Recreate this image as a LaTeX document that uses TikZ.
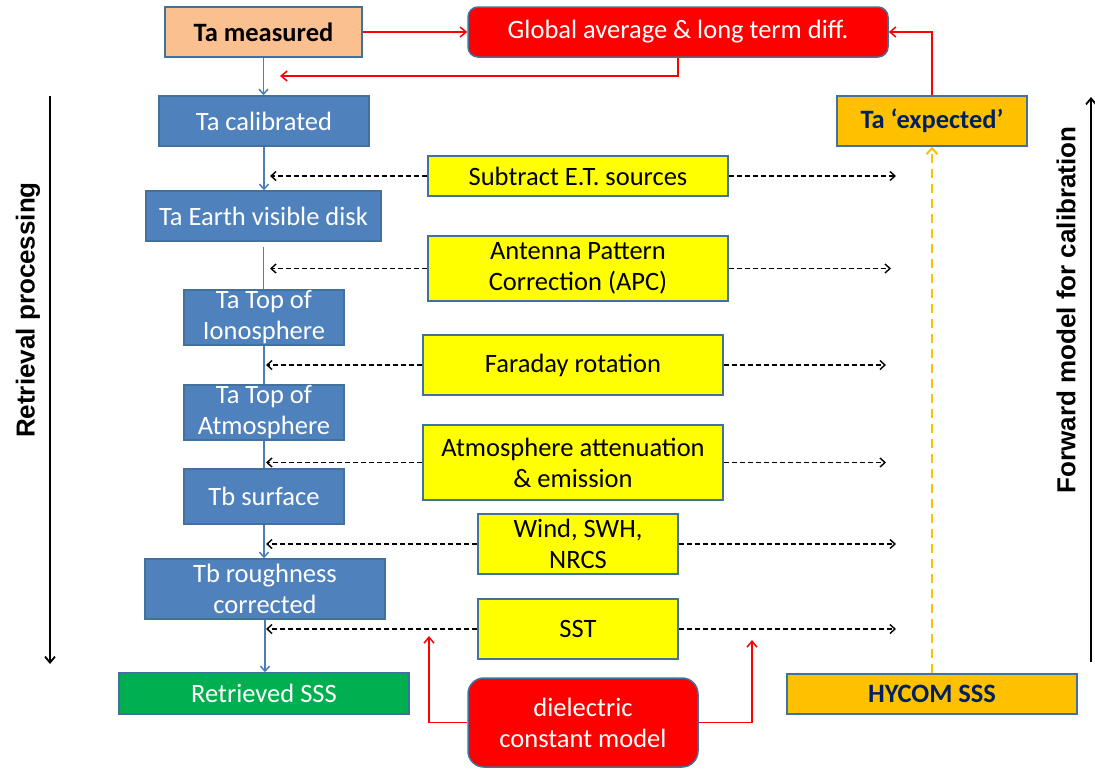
\documentclass[tikz,border=0pt]{standalone}
\usepackage{fontspec}
\setmainfont{Carlito}
\newfontfamily\arialfont{Liberation Sans}
\usetikzlibrary{arrows.meta}
\definecolor{bluebox}{HTML}{4F81BD}
\definecolor{edgeblue}{HTML}{41719C}
\definecolor{peach}{HTML}{FAC090}
\definecolor{ybox}{HTML}{FFFF00}
\definecolor{obox}{HTML}{FFC000}
\definecolor{navytext}{HTML}{002060}
\definecolor{gbox}{HTML}{00B050}
\definecolor{rbox}{HTML}{FF0000}
\definecolor{lineblue}{HTML}{4A7EBB}
\newcommand\bxf{\fontsize{26.5}{31}\selectfont}
\newcommand\sidef{\arialfont\bfseries\fontsize{26}{30}\selectfont}
\begin{document}
\begin{tikzpicture}[x=1pt,y=-1pt,
  box/.style={draw=edgeblue, line width=1.5pt, inner sep=0pt, align=center, font=\bxf},
  bluenode/.style={box, fill=bluebox, text=white},
  yelnode/.style={box, fill=ybox, text=black},
  orangenode/.style={box, fill=obox, text=navytext, font=\bxf\bfseries},
  rednode/.style={box, fill=rbox, text=white},
  blueconn/.style={draw=lineblue, line width=1.5pt},
  bluearr/.style={blueconn, -{Straight Barb[length=5pt,width=9pt]}},
  dasharr/.style={draw=black, line width=1.4pt, dash pattern=on 5pt off 3pt, -{Straight Barb[length=5pt,width=9pt]}},
  redarr/.style={draw=rbox, line width=1.5pt, -{Straight Barb[length=6pt,width=10pt]}},
  redline/.style={draw=rbox, line width=1.5pt},
  sidearr/.style={draw=black, line width=1.8pt, -{Straight Barb[length=6pt,width=10pt]}},
  sidelabel/.style={rotate=90, font=\sidef, inner sep=0pt}
]
\useasboundingbox (0,0) rectangle (1095,769);

% top row
\node[box, fill=peach, text=black, font=\bxf\bfseries, minimum width=197pt, minimum height=50pt] (tam) at (263.5,32) {Ta measured};
\node[rednode, rounded corners=10pt, minimum width=420pt, minimum height=50pt] (glob) at (678,32) {Global average \& long term diff.};

% left column
\node[bluenode, minimum width=210pt, minimum height=50pt] (tcal) at (264,121) {Ta calibrated};
\node[bluenode, minimum width=235pt, minimum height=50pt] (tearth) at (263.5,216) {Ta Earth visible disk};
\node[bluenode, minimum width=160pt, minimum height=55pt] (tion) at (264,317.5) {Ta Top of\\Ionosphere};
\node[bluenode, minimum width=160pt, minimum height=55pt] (tatm) at (264,412.5) {Ta Top of\\Atmosphere};
\node[bluenode, minimum width=160pt, minimum height=55pt] (tbs) at (264,496.5) {Tb surface};
\node[bluenode, minimum width=240pt, minimum height=60pt] (trough) at (265,589) {Tb roughness\\corrected};
\node[box, fill=gbox, text=white, minimum width=290pt, minimum height=41pt] (ret) at (264,693.5) {Retrieved SSS};

% middle column
\node[yelnode, minimum width=300pt, minimum height=40pt] (sub) at (578,176) {Subtract E.T. sources};
\node[yelnode, minimum width=300pt, minimum height=65pt] (apc) at (578,268.5) {Antenna Pattern\\Correction (APC)};
\node[yelnode, minimum width=300pt, minimum height=60pt] (far) at (573,365) {Faraday rotation};
\node[yelnode, minimum width=300pt, minimum height=75pt] (atm) at (573,462.5) {Atmosphere attenuation\\\& emission};
\node[yelnode, minimum width=200pt, minimum height=60pt] (wind) at (578,544) {Wind, SWH,\\NRCS};
\node[yelnode, minimum width=200pt, minimum height=60pt] (sst) at (578,629) {SST};
\node[rednode, rounded corners=16pt, minimum width=230pt, minimum height=89pt] (diel) at (583,722.5) {dielectric\\constant model};

% right column
\node[orangenode, minimum width=190pt, minimum height=50pt] (texp) at (932,121) {Ta ‘expected’};
\node[orangenode, minimum width=290pt, minimum height=40pt] (hycom) at (932,694) {HYCOM SSS};

% side labels
\node[sidelabel] (rp) at (28,310) {Retrieval processing};
\node[sidelabel] (fm) at (1066,310) {Forward model for calibration};
\coordinate (lt) at (50,96);
\coordinate (lb) at (50,664);
\coordinate (rb) at (1091,662);
\coordinate (rt) at (1091,97);
\draw[sidearr] (lt) -- (lb);
\draw[sidearr] (rb) -- (rt);

% blue processing chain
\draw[bluearr] (tam.south) -- (tam.south |- tcal.north);
\draw[bluearr] (tcal.south) -- (tcal.south |- tearth.north);
\draw[blueconn] ([yshift=-5pt]tearth.south) -- (tearth.south |- tion.north);
\draw[blueconn] (tion.south) -- (tion.south |- tatm.north);
\draw[blueconn] (tatm.south) -- (tatm.south |- tbs.north);
\draw[bluearr] (tbs.south) -- (tbs.south |- trough.north);
\draw[bluearr] (trough.south) -- (trough.south |- ret.north);

% red connectors
\coordinate (redL) at (280,76);
\coordinate (dl) at (429,636);
\coordinate (dr) at (752,640);
\draw[redarr] (tam.east) -- (glob.west);
\draw[redarr] (glob.south) |- (redL);
\draw[redarr] (texp.north) |- (glob.east);
\draw[redarr] (diel.west) -| (dl);
\draw[redarr] (diel.east) -| (dr);

% dashed correction arrows
\coordinate (subL) at (270,176);  \coordinate (subR) at (896,176);
\coordinate (apcL) at (270,268.5);  \coordinate (apcR) at (891,268.5);
\coordinate (farL) at (266,365);  \coordinate (farR) at (886,365);
\coordinate (atmL) at (266,462.5);  \coordinate (atmR) at (886,462.5);
\coordinate (windL) at (266,544); \coordinate (windR) at (896,544);
\coordinate (sstL) at (266,629);  \coordinate (sstR) at (896,629);
\foreach \n in {sub,apc,far,atm,wind,sst}{
  \draw[dasharr] (\n.west) -- (\n L);
  \draw[dasharr] (\n.east) -- (\n R);
}

% HYCOM to expected
\draw[draw=obox, line width=2pt, dash pattern=on 9pt off 6pt, -{Straight Barb[length=6pt,width=11pt]}] (hycom.north) -- (texp.south);
\end{tikzpicture}
\end{document}
